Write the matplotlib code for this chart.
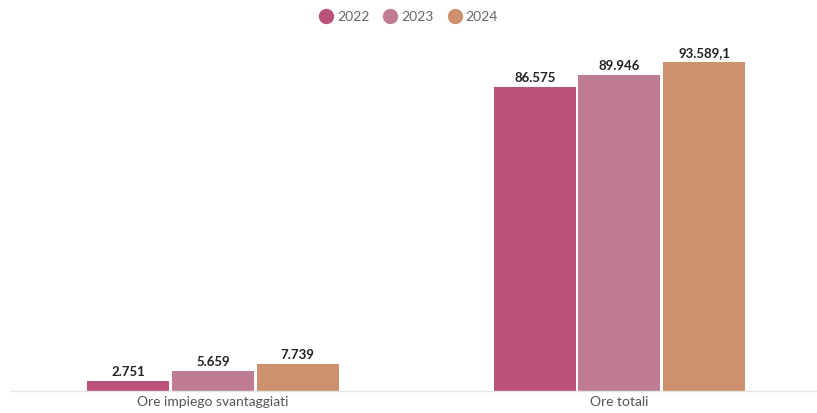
import matplotlib.pyplot as plt
import numpy as np

categories = ['Ore impiego svantaggiati', 'Ore totali']
years = ['2022', '2023', '2024']
values_2022 = [2751, 86575]
values_2023 = [5659, 89946]
values_2024 = [7739, 93589.1]
labels_2022 = ['2.751', '86.575']
labels_2023 = ['5.659', '89.946']
labels_2024 = ['7.739', '93.589,1']

colors = ['#b9517a', '#bf7c94', '#cd916e']

plt.rcParams['font.family'] = ['Lato', 'DejaVu Sans']

fig = plt.figure(figsize=(8.17, 4.14), dpi=100)
ax = fig.add_axes([0.012, 0.053, 0.995, 0.849])

x = np.arange(len(categories))
width = 0.2017
series = [values_2022, values_2023, values_2024]
labels = [labels_2022, labels_2023, labels_2024]

for i, (vals, labs) in enumerate(zip(series, labels)):
    pos = x + (i - 1) * (width + 0.0065)
    ax.bar(pos, vals, width=width, color=colors[i], label=years[i], zorder=2)
    for p, v, t in zip(pos, vals, labs):
        ax.text(p, v + 1200, t, ha='center', va='bottom', fontsize=9.5,
                fontweight='bold', color='#222222')

ax.set_xlim(-0.5, 1.5)
ax.set_ylim(0, 100000)
ax.set_yticks([])
ax.set_xticks(x)
ax.set_xticklabels(categories, fontsize=10, color='#555555')
ax.tick_params(axis='x', length=0, pad=3)
for s in ['top', 'right', 'left']:
    ax.spines[s].set_visible(False)
ax.spines['bottom'].set_color('#e6e6e6')
ax.spines['bottom'].set_linewidth(1)

handles = [plt.Line2D([], [], marker='o', linestyle='', markersize=10,
                      color=c) for c in colors]
fig.legend(handles, years, loc='center', bbox_to_anchor=(0.498, 0.958),
           ncol=3, frameon=False, fontsize=10, handletextpad=0.05,
           columnspacing=0.75, handlelength=1.5, labelcolor='#666666')

plt.savefig('out.png', dpi=100)
